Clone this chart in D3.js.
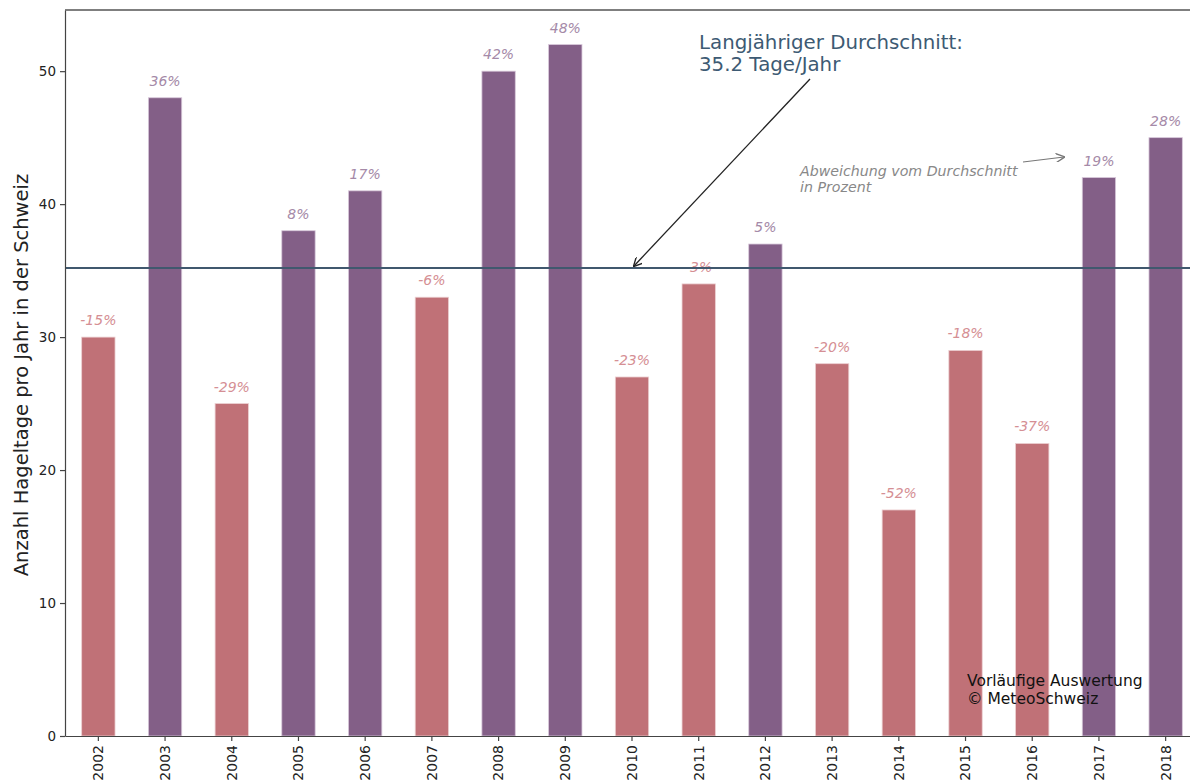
<!DOCTYPE html>
<html>
<head>
<meta charset="utf-8">
<script src="https://cdn.jsdelivr.net/npm/d3@7"></script>
<style>
  body { margin: 0; background: #fff; }
  text { font-family: "DejaVu Sans", sans-serif; }
</style>
</head>
<body>
<div class="canvas"></div>
<script>
// data
const years = ['2002','2003','2004','2005','2006','2007','2008','2009','2010','2011','2012','2013','2014','2015','2016','2017','2018'];
const hailDays = [30, 48, 25, 38, 41, 33, 50, 52, 27, 34, 37, 28, 17, 29, 22, 42, 45];
const deviation = [-15, 36, -29, 8, 17, -6, 42, 48, -23, -3, 5, -20, -52, -18, -37, 19, 28];
const average = 35.2;
const yTicks = [0, 10, 20, 30, 40, 50];

const svg = d3.select('.canvas')
  .append('svg')
  .attr('width', 1190)
  .attr('height', 783);

// margins & dimensions
const margin = { top: 10, left: 65 };
const graphWidth = 1134;
const graphHeight = 726;

const graph = svg.append('g')
  .attr('transform', `translate(${margin.left}, ${margin.top})`);

const x = d3.scaleBand()
  .domain(years)
  .range([0, graphWidth])
  .paddingInner(0.5)
  .paddingOuter(0.25);

const y = d3.scaleLinear()
  .domain([0, 54.6])
  .range([graphHeight, 0]);

const purple = '#835f87';
const red = '#c07177';

// bars
graph.selectAll('rect.bar')
  .data(years)
  .enter()
  .append('rect')
  .attr('class', 'bar')
  .attr('x', d => x(d))
  .attr('width', x.bandwidth())
  .attr('y', (d, i) => y(hailDays[i]))
  .attr('height', (d, i) => graphHeight - y(hailDays[i]))
  .attr('fill', (d, i) => deviation[i] >= 0 ? purple : red)
  .attr('stroke', (d, i) => deviation[i] >= 0 ? '#d8c8da' : '#ecd0d2')
  .attr('stroke-width', 0.8);

// percentage labels
graph.selectAll('text.pct')
  .data(years)
  .enter()
  .append('text')
  .attr('class', 'pct')
  .attr('x', d => x(d) + x.bandwidth() / 2)
  .attr('y', (d, i) => y(hailDays[i]) - 12)
  .attr('text-anchor', 'middle')
  .attr('font-size', 14)
  .attr('font-style', 'italic')
  .attr('fill', (d, i) => deviation[i] >= 0 ? '#a58aa8' : '#d58f94')
  .text((d, i) => deviation[i] + '%');

// average line
graph.append('line')
  .attr('x1', 0).attr('x2', graphWidth)
  .attr('y1', y(average)).attr('y2', y(average))
  .attr('stroke', '#40586e')
  .attr('stroke-width', 2);

// axes
const xAxis = d3.axisBottom(x).tickSize(5).tickSizeOuter(0);
const yAxis = d3.axisLeft(y).tickValues(yTicks).tickSize(5).tickSizeOuter(0);

const xAxisGroup = graph.append('g')
  .attr('transform', `translate(0, ${graphHeight})`)
  .call(xAxis);

xAxisGroup.selectAll('text')
  .attr('font-size', 14)
  .attr('fill', '#222')
  .attr('transform', 'rotate(-90)')
  .attr('text-anchor', 'end')
  .attr('x', -9)
  .attr('y', 0)
  .attr('dy', '0.35em');

const yAxisGroup = graph.append('g').call(yAxis);
yAxisGroup.selectAll('text')
  .attr('font-size', 13.5)
  .attr('fill', '#222')
  .attr('x', -9);

graph.selectAll('.domain').attr('stroke', '#444').attr('stroke-width', 1.2);
graph.selectAll('.tick line').attr('stroke', '#444').attr('stroke-width', 1.2);

// top frame
graph.append('line')
  .attr('x1', 0).attr('x2', graphWidth)
  .attr('y1', 0).attr('y2', 0)
  .attr('stroke', '#555').attr('stroke-width', 1.5);

// y label
svg.append('text')
  .attr('transform', `translate(28, ${margin.top + graphHeight / 2 + 2}) rotate(-90)`)
  .attr('text-anchor', 'middle')
  .attr('font-size', 19.5)
  .attr('fill', '#222')
  .text('Anzahl Hageltage pro Jahr in der Schweiz');

// arrow markers
const defs = svg.append('defs');
const marker = (id, color) => defs.append('marker')
  .attr('id', id)
  .attr('viewBox', '0 0 10 10')
  .attr('refX', 9).attr('refY', 5)
  .attr('markerWidth', 9).attr('markerHeight', 9)
  .attr('markerUnits', 'userSpaceOnUse')
  .attr('orient', 'auto')
  .append('path')
  .attr('d', 'M0,0 L10,5 L0,10')
  .attr('fill', 'none')
  .attr('stroke', color)
  .attr('stroke-width', 1.5);
marker('arrowDark', '#222');
marker('arrowGray', '#777');

// average annotation
const avgNote = svg.append('text')
  .attr('font-size', 19.8)
  .attr('fill', '#3d5a73');
avgNote.append('tspan').attr('x', 699).attr('y', 49).text('Langjähriger Durchschnitt:');
avgNote.append('tspan').attr('x', 699).attr('y', 71).text(average + ' Tage/Jahr');

svg.append('line')
  .attr('x1', 810).attr('y1', 79)
  .attr('x2', margin.left + x('2010') + x.bandwidth() / 2 + 2).attr('y2', margin.top + y(average) - 2)
  .attr('stroke', '#222')
  .attr('stroke-width', 1.3)
  .attr('marker-end', 'url(#arrowDark)');

// deviation annotation
const devNote = svg.append('text')
  .attr('font-size', 14.2)
  .attr('font-style', 'italic')
  .attr('fill', '#888');
devNote.append('tspan').attr('x', 800).attr('y', 176).text('Abweichung vom Durchschnitt');
devNote.append('tspan').attr('x', 800).attr('y', 192).text('in Prozent');

svg.append('line')
  .attr('x1', 1023).attr('y1', 162)
  .attr('x2', 1064).attr('y2', 157)
  .attr('stroke', '#777')
  .attr('stroke-width', 1.2)
  .attr('marker-end', 'url(#arrowGray)');

// source note
const src = svg.append('text')
  .attr('font-size', 15.5)
  .attr('fill', '#111');
src.append('tspan').attr('x', 967).attr('y', 686).text('Vorläufige Auswertung');
src.append('tspan').attr('x', 967).attr('y', 704).text('© MeteoSchweiz');
</script>
</body>
</html>
